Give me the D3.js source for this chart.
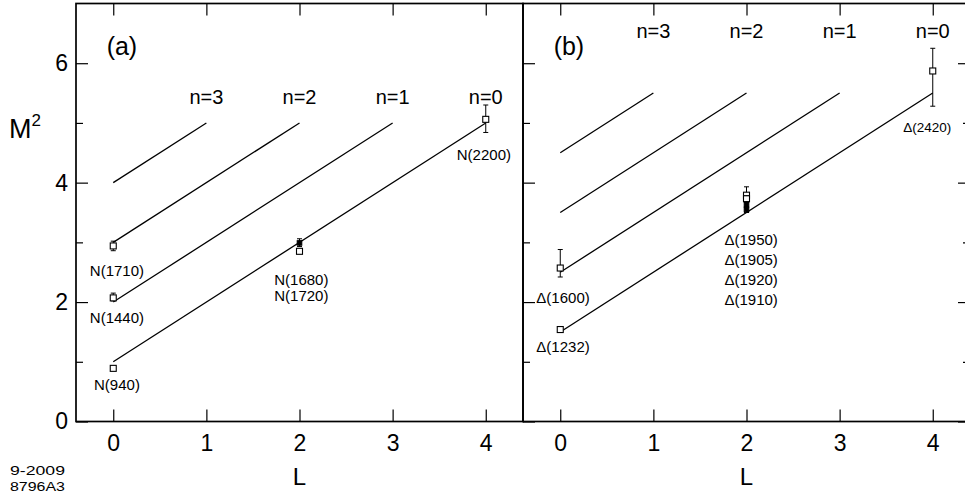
<!DOCTYPE html>
<html><head><meta charset="utf-8">
<script src="https://cdn.jsdelivr.net/npm/d3@7"></script>
<style>
html,body{margin:0;padding:0;background:#fff;}
svg{display:block;font-family:"Liberation Sans",Arial,Helvetica,sans-serif;}
</style></head>
<body>
<svg id="chart" width="965" height="493"></svg>
<script>
// ---------- data ----------
const xTicks = [0, 1, 2, 3, 4];
const yMajorTicks = [0, 2, 4, 6];
const yMinorTicks = [1, 3, 5];
const nLabels = ["n=0", "n=1", "n=2", "n=3"];
const nLabelL = [4, 3, 2, 1];
const nLabelM2A = [5.31, 5.31, 5.31, 5.31];
const nLabelM2B = [6.43, 6.43, 6.43, 6.43];

// trajectories: M^2 = start + L, from L=0 to L=end
const trajStartA = [1.0, 2.0, 3.0, 4.0];
const trajStartB = [1.5, 2.5, 3.5, 4.5];
const trajEndL = [4, 3, 2, 1];

// panel (a) nucleon points
const ptsA_L = [0, 0, 0, 2, 2, 4];
const ptsA_M2 = [0.89, 2.07, 2.94, 2.85, 2.99, 5.06];
const ptsA_lo = [0.89, 2.02, 2.86, 2.85, 2.93, 4.84];
const ptsA_hi = [0.89, 2.15, 3.02, 2.85, 3.06, 5.30];
const ptsA_filled = [false, false, false, false, true, false];

// panel (b) delta points
const ptsB_L = [0, 0, 2, 2, 2, 2, 4];
const ptsB_M2 = [1.54, 2.57, 3.79, 3.73, 3.63, 3.55, 5.87];
const ptsB_lo = [1.54, 2.42, 3.70, 3.68, 3.58, 3.50, 5.28];
const ptsB_hi = [1.54, 2.88, 3.93, 3.78, 3.68, 3.60, 6.25];
const ptsB_filled = [false, false, false, false, true, true, false];

// state labels (anchor in data units)
const labA_text = ["N(940)", "N(1440)", "N(1710)", "N(1680)", "N(1720)", "N(2200)"];
const labA_L = [0.04, 0.04, 0.04, 2.02, 2.02, 3.98];
const labA_M2 = [0.53, 1.645, 2.44, 2.29, 2.01, 4.38];

const labB_text = ["Δ(1232)", "Δ(1600)", "Δ(1950)", "Δ(1905)", "Δ(1920)", "Δ(1910)", "Δ(2420)"];
const labB_L = [0.03, 0.03, 2.05, 2.05, 2.05, 2.05, 3.94];
const labB_M2 = [1.17, 1.98, 2.96, 2.62, 2.29, 1.95, 4.85];
const labB_small = [false, false, false, false, false, false, true];

// ---------- drawing ----------
const svg = d3.select("#chart");
const yTop = 3.5, yBot = 421.5;
const y = d3.scaleLinear().domain([0, 7]).range([yBot, yTop]);
const xA = d3.scaleLinear().domain([-0.4, 4.4]).range([76, 523]);
const xB = d3.scaleLinear().domain([-0.4, 4.4]).range([523, 970]);

function panel(x, opts) {
  const g = svg.append("g");
  const [x0, x1] = x.range();
  // frame
  g.append("rect").attr("x", x0).attr("y", yTop).attr("width", x1 - x0).attr("height", yBot - yTop)
    .attr("fill", "none").attr("stroke", "#000").attr("stroke-width", 1.7);

  // bottom ticks (inward) + labels
  const bx = g.append("g").attr("transform", `translate(0,${yBot})`)
    .call(d3.axisTop(x).tickValues(xTicks).tickSize(12).tickFormat(""));
  bx.select(".domain").remove();
  bx.selectAll("line").attr("stroke", "#000").attr("stroke-width", 1.2);
  const bl = g.append("g").attr("transform", `translate(0,${yBot})`)
    .call(d3.axisBottom(x).tickValues(xTicks).tickSize(0).tickPadding(13).tickFormat(d3.format("d")));
  bl.select(".domain").remove();
  bl.selectAll("text").attr("font-size", 23).attr("fill", "#000").attr("font-family", "Liberation Sans, Arial, sans-serif");

  // top ticks
  const tx = g.append("g").attr("transform", `translate(0,${yTop})`)
    .call(d3.axisBottom(x).tickValues(xTicks).tickSize(12).tickFormat(""));
  tx.select(".domain").remove();
  tx.selectAll("line").attr("stroke", "#000").attr("stroke-width", 1.2);

  // left ticks (inward)
  const ly = g.append("g").attr("transform", `translate(${x0},0)`)
    .call(d3.axisRight(y).tickValues(yMajorTicks).tickSize(12).tickFormat(""));
  ly.select(".domain").remove();
  ly.selectAll("line").attr("stroke", "#000").attr("stroke-width", 1.2);
  const lym = g.append("g").attr("transform", `translate(${x0},0)`)
    .call(d3.axisRight(y).tickValues(yMinorTicks).tickSize(7).tickFormat(""));
  lym.select(".domain").remove();
  lym.selectAll("line").attr("stroke", "#000").attr("stroke-width", 1.2);

  if (opts.rightTicks) {
    const ry = g.append("g").attr("transform", `translate(${x1},0)`)
      .call(d3.axisLeft(y).tickValues(yMajorTicks).tickSize(12).tickFormat(""));
    ry.select(".domain").remove();
    ry.selectAll("line").attr("stroke", "#000").attr("stroke-width", 1.2);
    const rym = g.append("g").attr("transform", `translate(${x1},0)`)
      .call(d3.axisLeft(y).tickValues(yMinorTicks).tickSize(7).tickFormat(""));
    rym.select(".domain").remove();
    rym.selectAll("line").attr("stroke", "#000").attr("stroke-width", 1.2);
  }
  if (opts.yLabels) {
    const yl = g.append("g").attr("transform", `translate(${x0},0)`)
      .call(d3.axisLeft(y).tickValues(yMajorTicks).tickSize(0).tickPadding(8).tickFormat(d3.format("d")));
    yl.select(".domain").remove();
    yl.selectAll("text").attr("font-size", 23).attr("fill", "#000").attr("font-family", "Liberation Sans, Arial, sans-serif");
  }

  // trajectory lines
  const line = d3.line().x(d => x(d[0])).y(d => y(d[1]));
  opts.starts.forEach((s, i) => {
    g.append("path").attr("d", line([[0, s], [trajEndL[i], s + trajEndL[i]]]))
      .attr("fill", "none").attr("stroke", "#000").attr("stroke-width", 1.3);
  });

  // n labels
  nLabels.forEach((t, i) => {
    g.append("text").attr("x", x(nLabelL[i])).attr("y", y(opts.nM2[i]))
      .attr("text-anchor", "middle").attr("font-size", 20).text(t);
  });

  // points with error bars
  opts.L.forEach((L, i) => {
    const cx = x(L);
    if (opts.hi[i] !== opts.lo[i]) {
      g.append("line").attr("x1", cx).attr("x2", cx).attr("y1", y(opts.hi[i])).attr("y2", y(opts.lo[i]))
        .attr("stroke", "#000").attr("stroke-width", 1);
      [opts.hi[i], opts.lo[i]].forEach(v => {
        g.append("line").attr("x1", cx - 2.5).attr("x2", cx + 2.5).attr("y1", y(v)).attr("y2", y(v))
          .attr("stroke", "#000").attr("stroke-width", 1);
      });
    }
    const cy = y(opts.M2[i]);
    const s = opts.filled[i] ? 4.5 : 6;
    g.append("rect").attr("x", cx - s / 2).attr("y", cy - s / 2).attr("width", s).attr("height", s)
      .attr("fill", opts.filled[i] ? "#000" : "#fff").attr("stroke", "#000").attr("stroke-width", 1.1);
  });

  // state labels
  opts.labText.forEach((t, i) => {
    g.append("text").attr("x", x(opts.labL[i])).attr("y", y(opts.labM2[i]))
      .attr("text-anchor", "middle").attr("font-size", opts.labSmall && opts.labSmall[i] ? 13.5 : 15).text(t);
  });

  // panel tag and L label
  g.append("text").attr("x", x(-0.2) + 12).attr("y", 55).attr("font-size", 25).text(opts.tag);
  g.append("text").attr("x", x(2)).attr("y", 485).attr("text-anchor", "middle").attr("font-size", 24).text("L");
}

panel(xA, {
  yLabels: true, rightTicks: false, starts: trajStartA, nM2: nLabelM2A,
  L: ptsA_L, M2: ptsA_M2, lo: ptsA_lo, hi: ptsA_hi, filled: ptsA_filled,
  labText: labA_text, labL: labA_L, labM2: labA_M2, tag: "(a)"
});
panel(xB, {
  yLabels: false, rightTicks: true, starts: trajStartB, nM2: nLabelM2B,
  L: ptsB_L, M2: ptsB_M2, lo: ptsB_lo, hi: ptsB_hi, filled: ptsB_filled,
  labText: labB_text, labL: labB_L, labM2: labB_M2, labSmall: labB_small, tag: "(b)"
});

// y axis title M^2
const yt = svg.append("text").attr("x", 9).attr("y", 138).attr("font-size", 27);
yt.append("tspan").text("M");
yt.append("tspan").attr("dy", -12).attr("font-size", 17).text("2");

// figure id
svg.append("text").attr("x", 10).attr("y", 475).attr("font-size", 13)
  .attr("textLength", 55).attr("lengthAdjust", "spacingAndGlyphs").text("9-2009");
svg.append("text").attr("x", 10).attr("y", 491).attr("font-size", 13)
  .attr("textLength", 55).attr("lengthAdjust", "spacingAndGlyphs").text("8796A3");
</script>
</body></html>
